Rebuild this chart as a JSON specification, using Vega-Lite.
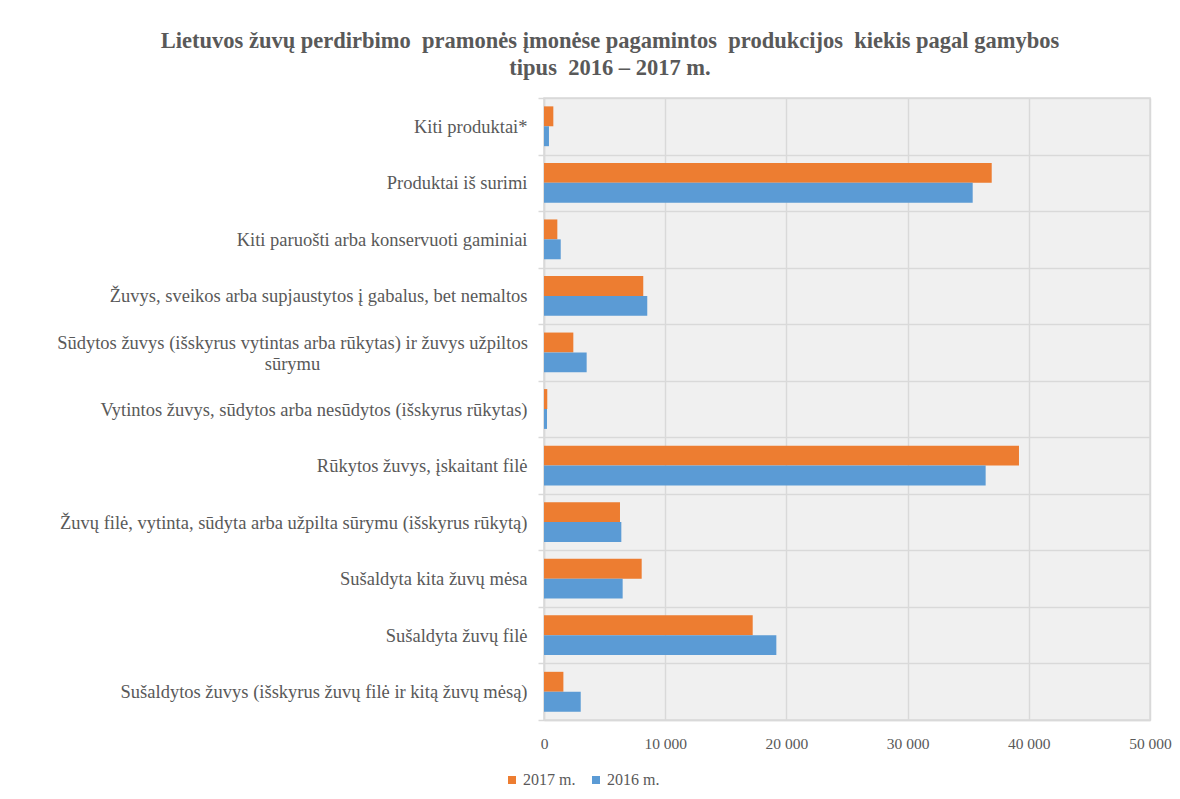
{
  "$schema": "https://vega.github.io/schema/vega-lite/v6.json",
  "width": 606,
  "height": 622,
  "autosize": {"type": "none"},
  "padding": {"left": 544, "top": 98, "right": 30, "bottom": 79},
  "background": "#ffffff",
  "title": {
    "text": ["Lietuvos žuvų perdirbimo \u00a0pramonės įmonėse pagamintos \u00a0produkcijos \u00a0kiekis pagal gamybos", "tipus \u00a02016 – 2017 m."],
    "font": "Liberation Serif",
    "fontSize": 22.5,
    "fontWeight": "bold",
    "color": "#595959",
    "anchor": "middle",
    "dx": -237,
    "offset": 10,
    "lineHeight": 27
  },
  "config": {
    "view": {"fill": "#f0f0f0", "stroke": "#d9d9d9", "strokeWidth": 1.5},
    "font": "Liberation Serif",
    "style": {"guide-label": {"lineBreak": "|"}}
  },
  "data": {
    "values": [
      {"cat": "Kiti produktai*", "year": "2017 m.", "value": 770},
      {"cat": "Kiti produktai*", "year": "2016 m.", "value": 410},
      {"cat": "Produktai iš surimi", "year": "2017 m.", "value": 36940},
      {"cat": "Produktai iš surimi", "year": "2016 m.", "value": 35370},
      {"cat": "Kiti paruošti arba konservuoti gaminiai", "year": "2017 m.", "value": 1100},
      {"cat": "Kiti paruošti arba konservuoti gaminiai", "year": "2016 m.", "value": 1380},
      {"cat": "Žuvys, sveikos arba supjaustytos į gabalus, bet nemaltos", "year": "2017 m.", "value": 8190},
      {"cat": "Žuvys, sveikos arba supjaustytos į gabalus, bet nemaltos", "year": "2016 m.", "value": 8520},
      {"cat": "Sūdytos žuvys (išskyrus vytintas arba rūkytas) ir žuvys užpiltos|sūrymu", "year": "2017 m.", "value": 2420},
      {"cat": "Sūdytos žuvys (išskyrus vytintas arba rūkytas) ir žuvys užpiltos|sūrymu", "year": "2016 m.", "value": 3520},
      {"cat": "Vytintos žuvys, sūdytos arba nesūdytos (išskyrus rūkytas)", "year": "2017 m.", "value": 270},
      {"cat": "Vytintos žuvys, sūdytos arba nesūdytos (išskyrus rūkytas)", "year": "2016 m.", "value": 250},
      {"cat": "Rūkytos žuvys, įskaitant filė", "year": "2017 m.", "value": 39190},
      {"cat": "Rūkytos žuvys, įskaitant filė", "year": "2016 m.", "value": 36440},
      {"cat": "Žuvų filė, vytinta, sūdyta arba užpilta sūrymu (išskyrus rūkytą)", "year": "2017 m.", "value": 6270},
      {"cat": "Žuvų filė, vytinta, sūdyta arba užpilta sūrymu (išskyrus rūkytą)", "year": "2016 m.", "value": 6380},
      {"cat": "Sušaldyta kita žuvų mėsa", "year": "2017 m.", "value": 8060},
      {"cat": "Sušaldyta kita žuvų mėsa", "year": "2016 m.", "value": 6490},
      {"cat": "Sušaldyta žuvų filė", "year": "2017 m.", "value": 17220},
      {"cat": "Sušaldyta žuvų filė", "year": "2016 m.", "value": 19170},
      {"cat": "Sušaldytos žuvys (išskyrus žuvų filė ir kitą žuvų mėsą)", "year": "2017 m.", "value": 1600},
      {"cat": "Sušaldytos žuvys (išskyrus žuvų filė ir kitą žuvų mėsą)", "year": "2016 m.", "value": 3030}
    ]
  },
  "mark": {"type": "bar"},
  "encoding": {
    "y": {
      "field": "cat",
      "type": "nominal",
      "sort": null,
      "title": null,
      "scale": {"paddingInner": 0, "paddingOuter": 0},
      "axis": {
        "tickBand": "extent",
        "grid": true,
        "gridColor": "#d9d9d9",
        "gridWidth": 1.5,
        "ticks": true,
        "tickSize": 6,
        "tickColor": "#d9d9d9",
        "tickWidth": 1.5,
        "domainColor": "#d9d9d9",
        "domainWidth": 1.5,
        "labelFont": "Liberation Serif",
        "labelFontSize": 18.5,
        "labelColor": "#595959",
        "labelPadding": {"condition": {"test": "isString(datum.value) && indexof(datum.value, '|') > 0", "value": 246}, "value": 11},
        "labelAlign": {"condition": {"test": "isString(datum.value) && indexof(datum.value, '|') > 0", "value": "center"}, "value": "right"},
        "labelOffset": {"condition": {"test": "isString(datum.value) && indexof(datum.value, '|') > 0", "value": -10}, "value": 0},
        "labelLimit": 600,
        "labelLineHeight": 21
      }
    },
    "yOffset": {
      "field": "year",
      "type": "nominal",
      "sort": ["2017 m.", "2016 m."],
      "scale": {"paddingOuter": 0.42, "paddingInner": 0}
    },
    "x": {
      "field": "value",
      "type": "quantitative",
      "title": null,
      "scale": {"domain": [0, 50000], "nice": false},
      "axis": {
        "values": [0, 10000, 20000, 30000, 40000, 50000],
        "format": ",d",
        "labelExpr": "replace(datum.label, ',', ' ')",
        "labelFlush": false,
        "grid": true,
        "gridColor": "#d9d9d9",
        "gridWidth": 1.5,
        "ticks": false,
        "domainColor": "#d9d9d9",
        "domainWidth": 1.5,
        "labelFont": "Liberation Serif",
        "labelFontSize": 15.5,
        "labelColor": "#595959",
        "labelPadding": 16
      }
    },
    "color": {
      "field": "year",
      "type": "nominal",
      "sort": ["2017 m.", "2016 m."],
      "scale": {"range": ["#ED7D31", "#5B9BD5"]},
      "legend": {
        "title": null,
        "orient": "none",
        "legendX": -40,
        "legendY": 674,
        "direction": "horizontal",
        "symbolType": "square",
        "symbolSize": 64,
        "labelOffset": 3,
        "columnPadding": 12,
        "labelFont": "Liberation Serif",
        "labelFontSize": 16,
        "labelColor": "#595959"
      }
    }
  }
}
